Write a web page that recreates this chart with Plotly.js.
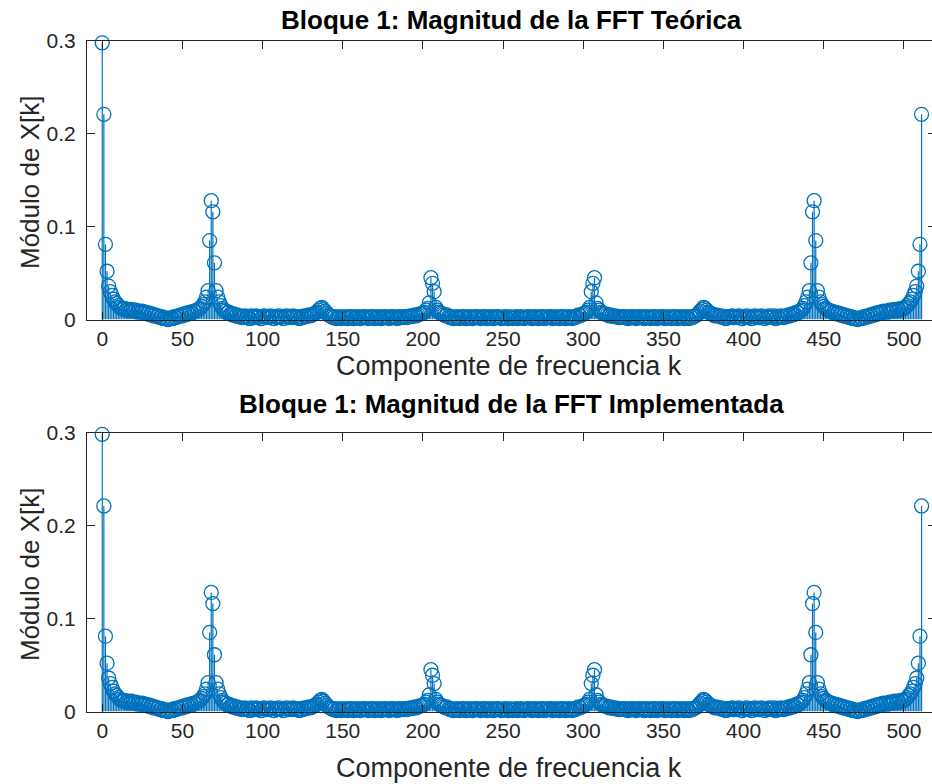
<!DOCTYPE html>
<html>
<head>
<meta charset="utf-8">
<script src="https://cdn.plot.ly/plotly-3.0.1.min.js"></script>
<style>
html, body { margin: 0; padding: 0; overflow: hidden; background: #fff; }
#chart { width: 940px; height: 784px; }
</style>
</head>
<body>
<div id="chart"></div>
<script>
// |X[k]|, k = 0..511 (Bloque 1, FFT teórica)
const magTeorica = [
  0.298,0.221,0.081,0.052,0.036,0.030,0.026,0.022,0.019,0.017,
  0.015,0.013,0.012,0.011,0.012,0.010,0.011,0.009,0.011,0.010,
  0.009,0.010,0.008,0.009,0.008,0.009,0.007,0.008,0.006,0.007,
  0.005,0.006,0.004,0.005,0.003,0.004,0.002,0.003,0.001,0.002,
  0.001,0.000,0.001,0.002,0.001,0.003,0.002,0.004,0.003,0.005,
  0.004,0.006,0.005,0.007,0.006,0.008,0.007,0.009,0.009,0.010,
  0.011,0.012,0.014,0.016,0.019,0.024,0.031,0.085,0.128,0.116,
  0.061,0.031,0.024,0.019,0.015,0.012,0.010,0.009,0.007,0.008,
  0.006,0.005,0.006,0.004,0.005,0.003,0.004,0.002,0.003,0.004,
  0.002,0.003,0.001,0.004,0.002,0.003,0.004,0.002,0.003,0.001,
  0.003,0.004,0.002,0.003,0.002,0.004,0.003,0.001,0.003,0.002,
  0.004,0.002,0.003,0.001,0.003,0.004,0.002,0.003,0.002,0.004,
  0.003,0.002,0.003,0.001,0.003,0.002,0.004,0.003,0.004,0.005,
  0.004,0.005,0.006,0.007,0.008,0.010,0.012,0.013,0.011,0.009,
  0.007,0.005,0.004,0.003,0.002,0.003,0.001,0.002,0.003,0.001,
  0.002,0.003,0.002,0.001,0.003,0.002,0.003,0.001,0.002,0.003,
  0.002,0.001,0.003,0.002,0.003,0.002,0.001,0.003,0.002,0.003,
  0.001,0.002,0.003,0.002,0.001,0.003,0.002,0.003,0.002,0.001,
  0.003,0.002,0.003,0.002,0.001,0.003,0.002,0.003,0.002,0.003,
  0.002,0.003,0.004,0.003,0.004,0.005,0.004,0.005,0.006,0.006,
  0.007,0.008,0.010,0.012,0.018,0.045,0.039,0.030,0.013,0.010,
  0.008,0.007,0.006,0.005,0.004,0.005,0.003,0.002,0.003,0.001,
  0.002,0.003,0.002,0.001,0.003,0.002,0.003,0.001,0.002,0.003,
  0.002,0.001,0.003,0.002,0.003,0.002,0.001,0.003,0.002,0.003,
  0.001,0.002,0.003,0.002,0.001,0.003,0.002,0.003,0.002,0.001,
  0.002,0.003,0.002,0.001,0.003,0.002,0.001,
  0.002,0.003,0.001,0.002,0.003,0.002,
  0.001,0.002,0.003,0.002,0.003,0.001,0.002,0.003,0.002,0.001,
  0.003,0.002,0.003,0.001,0.002,0.003,0.002,0.003,0.001,0.002,
  0.003,0.002,0.001,0.003,0.002,0.003,0.001,0.002,0.003,0.002,
  0.001,0.003,0.002,0.003,0.005,0.004,0.005,0.006,0.007,0.008,
  0.010,0.013,0.030,0.039,0.045,0.018,0.012,0.010,0.008,0.007,
  0.006,0.006,0.005,0.004,0.005,0.004,0.003,0.004,0.003,0.002,
  0.003,0.002,0.003,0.002,0.003,0.001,0.002,0.003,0.002,0.003,
  0.001,0.002,0.003,0.002,0.003,0.001,0.002,0.003,0.002,0.001,
  0.003,0.002,0.003,0.001,0.002,0.003,0.002,0.003,0.001,0.002,
  0.003,0.002,0.001,0.003,0.002,0.003,0.001,0.002,0.003,0.002,
  0.001,0.003,0.002,0.001,0.003,0.002,0.003,0.004,0.005,0.007,
  0.009,0.011,0.013,0.012,0.010,0.008,0.007,0.006,0.005,0.004,
  0.005,0.004,0.003,0.004,0.002,0.003,0.001,0.003,0.002,0.003,
  0.004,0.002,0.003,0.002,0.004,0.003,0.001,0.003,0.002,0.004,
  0.002,0.003,0.001,0.003,0.004,0.002,0.003,0.002,0.004,0.003,
  0.001,0.003,0.002,0.004,0.003,0.002,0.004,0.001,0.003,0.002,
  0.004,0.003,0.002,0.004,0.003,0.005,0.004,0.006,0.005,0.006,
  0.008,0.007,0.009,0.010,0.012,0.015,0.019,0.024,0.031,0.061,
  0.116,0.128,0.085,0.031,0.024,0.019,0.016,0.014,0.012,0.011,
  0.010,0.009,0.009,0.007,0.008,0.006,0.007,0.005,0.006,0.004,
  0.005,0.003,0.004,0.002,0.003,0.001,0.002,0.001,0.000,0.001,
  0.002,0.001,0.003,0.002,0.004,0.003,0.005,0.004,0.006,0.005,
  0.007,0.006,0.008,0.007,0.009,0.008,0.009,0.008,0.010,0.009,
  0.010,0.011,0.009,0.011,0.010,0.012,0.011,0.012,0.013,0.015,
  0.017,0.019,0.022,0.026,0.030,0.036,0.052,0.081,0.221
];
// The implemented FFT shows the same magnitudes in the reference
const magImplementada = magTeorica.slice();

const titulos = [
  'Bloque 1: Magnitud de la FFT Teórica',
  'Bloque 1: Magnitud de la FFT Implementada'
];
const etiquetaX = 'Componente de frecuencia k';
const etiquetaY = 'Módulo de X[k]';
const xTicks = [0, 50, 100, 150, 200, 250, 300, 350, 400, 450, 500];
const yTicks = [0, 0.1, 0.2, 0.3];
const yTickText = ['0', '0.1', '0.2', '0.3'];

const azul = 'rgb(0,114,189)';
const FW = 940, FH = 784, ML = 87, MR = 4;
const PW = FW - ML - MR;

function stemTrace(vals, xa, ya) {
  const k = vals.map((_, i) => i);
  return {
    type: 'scatter', mode: 'markers', x: k, y: vals, xaxis: xa, yaxis: ya,
    cliponaxis: false, hoverinfo: 'x+y',
    marker: { symbol: 'circle-open', size: 14, color: azul, line: { width: 1.3, color: azul } },
    error_y: { type: 'data', symmetric: false, array: vals.map(() => 0), arrayminus: vals,
               width: 0, thickness: 1.2, color: azul }
  };
}

const data = [
  stemTrace(magTeorica, 'x', 'y'),
  stemTrace(magImplementada, 'x2', 'y2')
];

const fontTick = { family: 'Liberation Sans, Arial, sans-serif', size: 21, color: '#262626' };
function xAx(anchor) {
  return {
    anchor: anchor, domain: [0, 1], range: [-9.5, 520],
    tickmode: 'array', tickvals: xTicks, ticktext: xTicks.map(String),
    ticks: 'inside', ticklen: 8, tickwidth: 1, tickcolor: '#262626',
    showline: true, mirror: 'ticks', linecolor: '#262626', linewidth: 1,
    showgrid: false, zeroline: false, tickfont: fontTick, layer: 'above traces',
    fixedrange: true
  };
}
function yAx(anchor, dom) {
  return {
    anchor: anchor, domain: dom, range: [0, 0.3],
    tickmode: 'array', tickvals: yTicks, ticktext: yTickText,
    ticks: 'inside', ticklen: 8, tickwidth: 1, tickcolor: '#262626',
    showline: true, mirror: 'ticks', linecolor: '#262626', linewidth: 1,
    showgrid: false, zeroline: false, tickfont: fontTick, layer: 'above traces',
    ticklabelstandoff: 6,
    fixedrange: true
  };
}
const py = p => 1 - p / FH;
const px = p => (p - ML) / PW;

const dom1 = [py(319.5), py(41)];
const dom2 = [py(711.5), py(432.5)];

const fontTitle = { family: 'Liberation Sans, Arial, sans-serif', size: 26, color: '#000' };
const fontLabelX = { family: 'Liberation Sans, Arial, sans-serif', size: 27, color: '#262626' };
const fontLabelY = { family: 'Liberation Sans, Arial, sans-serif', size: 26, color: '#262626' };

const annotations = [
  { text: '<b>' + titulos[0] + '</b>', x: 0.5, y: py(20), xref: 'paper', yref: 'paper', showarrow: false, font: fontTitle, xanchor: 'center', yanchor: 'middle' },
  { text: etiquetaX, x: px(509), y: py(366), xref: 'paper', yref: 'paper', showarrow: false, font: fontLabelX, xanchor: 'center', yanchor: 'middle' },
  { text: etiquetaY, x: px(30), y: py(182), xref: 'paper', yref: 'paper', showarrow: false, font: fontLabelY, textangle: -90, xanchor: 'center', yanchor: 'middle' },
  { text: '<b>' + titulos[1] + '</b>', x: 0.5, y: py(404), xref: 'paper', yref: 'paper', showarrow: false, font: fontTitle, xanchor: 'center', yanchor: 'middle' },
  { text: etiquetaX, x: px(509), y: py(768), xref: 'paper', yref: 'paper', showarrow: false, font: fontLabelX, xanchor: 'center', yanchor: 'middle' },
  { text: etiquetaY, x: px(30), y: py(574), xref: 'paper', yref: 'paper', showarrow: false, font: fontLabelY, textangle: -90, xanchor: 'center', yanchor: 'middle' }
];

const layout = {
  width: FW, height: FH,
  margin: { l: ML, r: MR, t: 0, b: 0 },
  paper_bgcolor: '#fff', plot_bgcolor: '#fff',
  showlegend: false,
  xaxis: xAx('y'), yaxis: yAx('x', dom1),
  xaxis2: xAx('y2'), yaxis2: yAx('x2', dom2),
  annotations: annotations,
  font: { family: 'Liberation Sans, Arial, sans-serif' }
};

Plotly.newPlot('chart', data, layout, { displayModeBar: false, staticPlot: true });
</script>
</body>
</html>
